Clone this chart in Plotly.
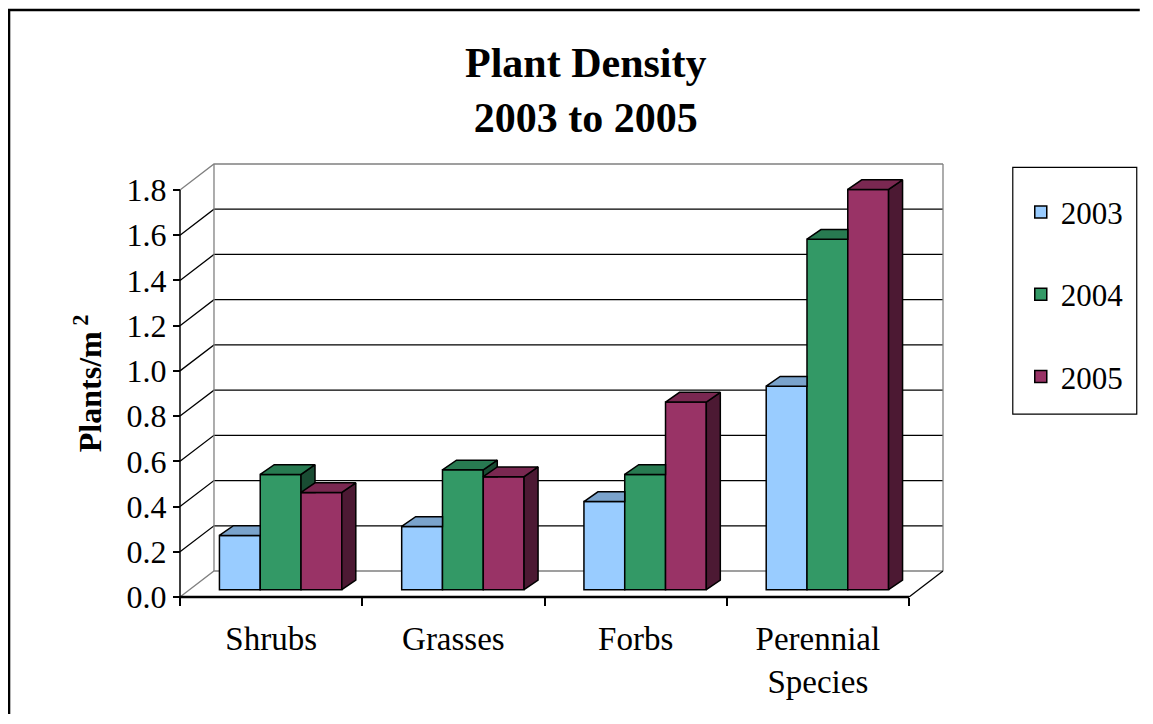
import plotly.graph_objects as go

# ─── Data ─────────────────────────────────────────────────────────────────────

categories = ["Shrubs", "Grasses", "Forbs", "Perennial<br>Species"]
years = ["2003", "2004", "2005"]
density_2003 = [0.24, 0.28, 0.39, 0.90]
density_2004 = [0.51, 0.53, 0.51, 1.55]
density_2005 = [0.43, 0.50, 0.83, 1.77]
y_ticks = [0.0, 0.2, 0.4, 0.6, 0.8, 1.0, 1.2, 1.4, 1.6, 1.8]

series = [density_2003, density_2004, density_2005]
colors = ["#99CCFF", "#339966", "#993366"]

# ─── Fake-3D geometry (Excel style box) ──────────────────────────────────────

OFF = 8               # default body margin of the html page
W, H = 1132, 706
PX_X = 182.3          # px per category
PX_Y = 226.3          # px per unit of density
WALL_DX, WALL_DY = 34 / PX_X, 26 / PX_Y
BAR_FX, BAR_FY = 9.5 / PX_X, 7.3 / PX_Y
BAR_DX, BAR_DY = 14 / PX_X, 9.7 / PX_Y
BAR_W = 40.8 / PX_X
PAD = 4
YMAX = y_ticks[-1]

# front-plane origin on the page: x=180, y=597
ML = 180 - PAD - OFF
MB = H - (597 + PAD - OFF)
PLOT_W = (len(categories) + WALL_DX) * PX_X + 2 * PAD
PLOT_H = (YMAX + WALL_DY) * PX_Y + 2 * PAD
MR = W - ML - PLOT_W
MT = H - MB - PLOT_H

FONT = "Liberation Serif, Times New Roman, serif"
GRAY = "#808080"


def shade(hex_color, k):
    r, g, b = (int(hex_color[i:i + 2], 16) for i in (1, 3, 5))
    return "#%02X%02X%02X" % (int(r * k), int(g * k), int(b * k))


def px_x(px):
    return (px - OFF - ML) / PLOT_W


def px_y(py):
    return (H - MB - (py - OFF)) / PLOT_H


def clip_above(poly, h):
    # keep the part of the polygon with y >= h
    out = []
    for i in range(len(poly)):
        (x0, y0), (x1, y1) = poly[i - 1], poly[i]
        in0, in1 = y0 >= h, y1 >= h
        if in1:
            if not in0:
                t = (h - y0) / (y1 - y0)
                out.append((x0 + t * (x1 - x0), h))
            out.append((x1, y1))
        elif in0:
            t = (h - y0) / (y1 - y0)
            out.append((x0 + t * (x1 - x0), h))
    return out


def path(points):
    return "M " + " L ".join(f"{x},{y}" for x, y in points)


fig = go.Figure()

# front faces
for s, vals in enumerate(series):
    xs = [c + (s - 1) * BAR_W + BAR_FX for c in range(len(categories))]
    fig.add_trace(go.Bar(
        x=xs, y=vals, base=BAR_FY, width=BAR_W,
        name=years[s], legendgroup=years[s],
        marker=dict(color=colors[s], line=dict(color="black", width=1.5)),
        hoverinfo="skip",
    ))

# side and top faces, painter's order left to right
for s, vals in enumerate(series):
    sides_x, sides_y, tops_x, tops_y = [], [], [], []
    for c, v in enumerate(vals):
        x0 = c + (s - 1) * BAR_W + BAR_FX - BAR_W / 2
        x1 = x0 + BAR_W
        t = v + BAR_FY
        side = [(x1, BAR_FY), (x1 + BAR_DX, BAR_FY + BAR_DY),
                (x1 + BAR_DX, t + BAR_DY), (x1, t)]
        top = [(x0, t), (x1, t), (x1 + BAR_DX, t + BAR_DY), (x0 + BAR_DX, t + BAR_DY)]
        if s < len(series) - 1:
            h = series[s + 1][c] + BAR_FY
            side = clip_above(side, h)
            if h > t:
                top = [(x0, t), (x1, t), (x1, t + BAR_DY), (x0 + BAR_DX, t + BAR_DY)]
        for poly, xs_, ys_ in ((side, sides_x, sides_y), (top, tops_x, tops_y)):
            if len(poly) >= 3:
                xs_ += [p[0] for p in poly] + [poly[0][0], None]
                ys_ += [p[1] for p in poly] + [poly[0][1], None]
    for xs_, ys_, k in ((sides_x, sides_y, 0.5), (tops_x, tops_y, 0.8)):
        fig.add_trace(go.Scatter(
            x=xs_, y=ys_, mode="lines", fill="toself",
            fillcolor=shade(colors[s], k),
            line=dict(color="black", width=1.5),
            showlegend=False, hoverinfo="skip",
        ))

# walls, floor and grid
x_l, x_r = -0.5, len(categories) - 0.5
shapes = []
for v in y_ticks:
    col = GRAY if v in (y_ticks[0], y_ticks[-1]) else "black"
    shapes.append(dict(type="path", path=path([(x_l, v), (x_l + WALL_DX, v + WALL_DY),
                                                (x_r + WALL_DX, v + WALL_DY)]),
                       line=dict(color=col, width=1.3), layer="below"))
for xb in (x_l + WALL_DX, x_r + WALL_DX):
    shapes.append(dict(type="path", path=path([(xb, WALL_DY), (xb, YMAX + WALL_DY)]),
                       line=dict(color=GRAY, width=1.3), layer="below"))
shapes.append(dict(type="path", path=path([(x_r, 0), (x_r + WALL_DX, WALL_DY)]),
                   line=dict(color="black", width=1.3), layer="below"))
shapes.append(dict(type="path", path=path([(x_l, 0), (x_l, YMAX)]),
                   line=dict(color="black", width=1.5), layer="below"))
shapes.append(dict(type="path", path=path([(x_l, 0), (x_r, 0)]),
                   line=dict(color="black", width=2.5), layer="below"))
for s_ in shapes:
    s_.update(xref="x", yref="y")
# outer chart frame (only left and top edges are on the page) and legend box
shapes.append(dict(type="path", xref="paper", yref="paper",
                   path=path([(px_x(9), px_y(OFF + H)), (px_x(9), px_y(9.5)),
                              (px_x(OFF + W), px_y(9.5))]),
                   line=dict(color="black", width=2.5)))
shapes.append(dict(type="rect", xref="paper", yref="paper",
                   x0=px_x(1013), x1=px_x(1137), y0=px_y(414), y1=px_y(167),
                   line=dict(color="black", width=1.2)))

fig.update_layout(
    width=W, height=H,
    margin=dict(l=ML, r=MR, t=MT, b=MB, autoexpand=False),
    paper_bgcolor="white", plot_bgcolor="white",
    font=dict(family=FONT, color="black", size=31),
    barmode="overlay",
    showlegend=True,
    shapes=shapes,
    xaxis=dict(
        range=[x_l - PAD / PX_X, x_r + WALL_DX + PAD / PX_X],
        domain=[0, 1], anchor="free", position=PAD / PLOT_H,
        tickvals=list(range(len(categories))), ticktext=categories,
        ticks="", showgrid=False, zeroline=False, showline=False,
        tickfont=dict(size=33), ticklabelstandoff=19,
        minor=dict(tickmode="array", tickvals=[x_l + i for i in range(len(categories) + 1)],
                   ticks="outside", ticklen=8, tickwidth=1.5, tickcolor="black",
                   showgrid=False),
    ),
    yaxis=dict(
        range=[-PAD / PX_Y, YMAX + WALL_DY + PAD / PX_Y],
        domain=[0, 1], anchor="free", position=PAD / PLOT_W,
        tickvals=y_ticks, tickformat=".1f",
        ticks="outside", ticklen=7, tickwidth=1.5, tickcolor="black",
        showgrid=False, zeroline=False, showline=False,
        tickfont=dict(size=32),
    ),
    legend=dict(
        x=px_x(1021), y=px_y(185), xanchor="left", yanchor="top",
        borderwidth=0, bgcolor="rgba(0,0,0,0)",
        font=dict(size=31), tracegroupgap=39,
    ),
    annotations=[
        dict(text="<b>Plant Density<br>2003 to 2005</b>", xref="paper", yref="paper",
             x=px_x(586.5), y=px_y(90), xanchor="center", yanchor="middle",
             showarrow=False, font=dict(size=42)),
        dict(text="<b>Plants/m<sup> 2</sup></b>", xref="paper", yref="paper",
             x=px_x(88), y=px_y(383), xanchor="center", yanchor="middle",
             textangle=-90, showarrow=False, font=dict(size=32)),
    ],
)

fig.write_html("out.html")
